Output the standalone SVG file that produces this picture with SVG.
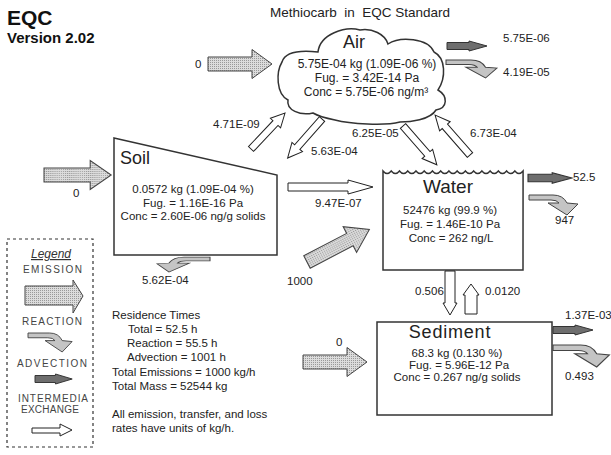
<svg xmlns="http://www.w3.org/2000/svg" xmlns:xlink="http://www.w3.org/1999/xlink" width="611" height="455" viewBox="0 0 611 455">
<style>
.t{font-family:"Liberation Sans",Arial,sans-serif;font-size:11.5px;fill:#222}
.m{text-anchor:middle}
.big{font-size:18px}
.lg{font-family:"Liberation Sans",Arial,sans-serif;font-size:10px;fill:#444}
.box{fill:#fff;stroke:#333;stroke-width:1.5}
.em{fill:url(#stip);stroke:#444;stroke-width:1}
.ad{fill:#6e6e6e;stroke:#333;stroke-width:1}
.re{fill:#c4c4c4;stroke:#444;stroke-width:1}
.ex{fill:#fff;stroke:#222;stroke-width:1}
</style>
<defs>
<pattern id="stip" width="2" height="2" patternUnits="userSpaceOnUse">
<rect width="2" height="2" fill="#dcdcdc"/>
<rect width="1" height="1" fill="#999"/>
</pattern>
<path id="emA" d="M0,-7 H44 V-14.5 L64,0 L44,14.5 V7 H0 Z"/>
<path id="adA" d="M0,-3.5 H22 V-5 L40,0 L22,5 V3.5 H0 Z"/>
<path id="reA" d="M0,0 L24,0 Q34,0 38,8 L49,9 L38,20 L19,8 L30,8 Q28,5 22,5 L0,5 Z"/>
<path id="exA" d="M0,-3.5 H36 V-7 L50,0 L36,7 V3.5 H0 Z"/>
</defs>
<rect width="611" height="455" fill="#fff"/>

<g id="title">
<text x="7" y="25" style="font-family:'Liberation Sans',Arial,sans-serif;font-weight:bold;font-size:21px;fill:#111">EQC</text>
<text x="7" y="43" style="font-family:'Liberation Sans',Arial,sans-serif;font-weight:bold;font-size:15px;fill:#111">Version 2.02</text>
<text x="360" y="17" class="t m" style="font-size:13.5px" xml:space="preserve">Methiocarb  in  EQC Standard</text>
</g>

<g id="air">
<path class="box" d="M282,62 C285,52 300,50 318,52 C320,34 345,26 360,30 C372,28 385,34 388,44 C400,36 428,38 434,52 C446,58 446,78 438,90 C448,96 448,108 436,110 C430,120 410,122 400,122 C385,126 350,124 335,120 C325,118 318,116 313,113 C300,116 286,110 288,100 C276,94 276,72 282,62 Z"/>
<text x="354" y="48" class="t m big">Air</text>
<text x="367" y="68" class="t m" style="font-size:12px">5.75E-04 kg (1.09E-06 %)</text>
<text x="367" y="82" class="t m" style="font-size:12px">Fug. = 3.42E-14 Pa</text>
<text x="366" y="96" class="t m" style="font-size:12px">Conc = 5.75E-06 ng/m³</text>
</g>

<g id="soil">
<path class="box" d="M114,138 L277,175 L277,255 L114,255 Z"/>
<text x="120" y="164" class="t big">Soil</text>
<text x="193" y="193" class="t m">0.0572 kg (1.09E-04 %)</text>
<text x="193" y="207" class="t m">Fug. = 1.16E-16 Pa</text>
<text x="193" y="220" class="t m">Conc = 2.60E-06 ng/g solids</text>
</g>

<g id="water">
<path class="box" d="M383,171 q4.12,5 8.24,0 q4.12,5 8.24,0 q4.12,5 8.24,0 q4.12,5 8.24,0 q4.12,5 8.24,0 q4.12,5 8.24,0 q4.12,5 8.24,0 q4.12,5 8.24,0 q4.12,5 8.24,0 q4.12,5 8.24,0 q4.12,5 8.24,0 q4.12,5 8.24,0 q4.12,5 8.24,0 q4.12,5 8.24,0 q4.12,5 8.24,0 q4.12,5 8.24,0 q4.12,5 8.24,0 L523,270 L383,270 Z"/>
<text x="448" y="193" class="t m" style="font-size:19px">Water</text>
<text x="450" y="214" class="t m">52476 kg (99.9 %)</text>
<text x="450" y="228" class="t m">Fug. = 1.46E-10 Pa</text>
<text x="451" y="242" class="t m">Conc = 262 ng/L</text>
</g>

<g id="sediment">
<rect class="box" x="377" y="322" width="175" height="93"/>
<text x="450" y="338" class="t m" style="font-size:18px;letter-spacing:0.8px">Sediment</text>
<text x="457" y="357" class="t m">68.3 kg (0.130 %)</text>
<text x="459" y="369" class="t m">Fug. = 5.96E-12 Pa</text>
<text x="457" y="381" class="t m">Conc = 0.267 ng/g solids</text>
</g>

<g id="connectors">
<use href="#emA" class="em" transform="translate(208,64)"/>
<use href="#emA" class="em" transform="translate(44,175) scale(1.05,1)"/>
<use href="#emA" class="em" transform="translate(303,362)"/>
<use href="#emA" class="em" transform="translate(307,262) rotate(-27.6) scale(1.1,1)"/>
<use href="#adA" class="ad" transform="translate(447,46)"/>
<use href="#adA" class="ad" transform="translate(528,178) scale(1.1,1.05)"/>
<use href="#adA" class="ad" transform="translate(553,330)"/>
<use href="#reA" class="re" transform="translate(446,60) scale(1.04,0.9)"/>
<use href="#reA" class="re" transform="translate(529,195)"/>
<use href="#reA" class="re" transform="translate(553,345) scale(1.15,1.1)"/>
<use href="#reA" class="re" transform="translate(210,257) scale(-1.08,0.75)"/>
<use href="#exA" class="ex" transform="translate(251,149) rotate(-46.6) scale(0.99,1)"/>
<use href="#exA" class="ex" transform="translate(322,119) rotate(131.4) scale(1.04,1)"/>
<use href="#exA" class="ex" transform="translate(403,126) rotate(48.9) scale(1.03,1)"/>
<use href="#exA" class="ex" transform="translate(470,155) rotate(228.8) scale(1.06,1)"/>
<path class="ex" d="M288,183 H348 V180 L373,187 L348,194 V191 H288 Z"/>
<path class="ex" d="M445,271 V303 H443 L450,315 L457,303 H455 V271 Z"/>
<path class="ex" d="M465,314 V295 H463 L471,284 L479,295 H477 V314 Z"/>
</g>

<g id="labels">
<text x="195" y="68" class="t">0</text>
<text x="503" y="42" class="t">5.75E-06</text>
<text x="503" y="76" class="t">4.19E-05</text>
<text x="213" y="128" class="t">4.71E-09</text>
<text x="311" y="155" class="t">5.63E-04</text>
<text x="352" y="137" class="t">6.25E-05</text>
<text x="470" y="137" class="t">6.73E-04</text>
<text x="73" y="197" class="t">0</text>
<text x="315" y="207" class="t">9.47E-07</text>
<text x="287" y="285" class="t">1000</text>
<text x="142" y="284" class="t">5.62E-04</text>
<text x="573" y="181" class="t">52.5</text>
<text x="555" y="224" class="t">947</text>
<text x="415" y="295" class="t">0.506</text>
<text x="485" y="295" class="t">0.0120</text>
<text x="565" y="319" class="t">1.37E-03</text>
<text x="565" y="380" class="t">0.493</text>
<text x="336" y="346" class="t">0</text>
</g>

<g id="info">
<text x="112" y="319" class="t">Residence Times</text>
<text x="128" y="333" class="t">Total = 52.5 h</text>
<text x="127" y="347" class="t">Reaction = 55.5 h</text>
<text x="127" y="361" class="t">Advection = 1001 h</text>
<text x="112" y="376" class="t">Total Emissions = 1000 kg/h</text>
<text x="112" y="390" class="t">Total Mass = 52544 kg</text>
<text x="112" y="418" class="t">All emission, transfer, and loss</text>
<text x="112" y="432" class="t">rates have units of kg/h.</text>
</g>

<g id="legend">
<rect x="7" y="239" width="86" height="208" fill="none" stroke="#333" stroke-width="1.2" stroke-dasharray="3,3"/>
<text x="51" y="258" class="t m" style="font-style:italic;font-size:12px;text-decoration:underline;fill:#333">Legend</text>
<text x="23" y="273" class="lg" textLength="59" lengthAdjust="spacing">EMISSION</text>
<path class="em" d="M25,286 H73 V280 L83,296 L73,313 V305 H25 Z"/>
<text x="22" y="325" class="lg" textLength="60" lengthAdjust="spacing">REACTION</text>
<use href="#reA" class="re" transform="translate(28,333) scale(0.9,0.95)"/>
<text x="17" y="367" class="lg" textLength="70" lengthAdjust="spacing">ADVECTION</text>
<use href="#adA" class="ad" transform="translate(35,379) scale(0.93,1)"/>
<text x="18" y="402" class="lg" textLength="70" lengthAdjust="spacing">INTERMEDIA</text>
<text x="21" y="413" class="lg" textLength="58" lengthAdjust="spacing">EXCHANGE</text>
<path class="ex" d="M32,428 H60 V424 L72,430 L60,436 V433 H32 Z"/>
</g>
</svg>
